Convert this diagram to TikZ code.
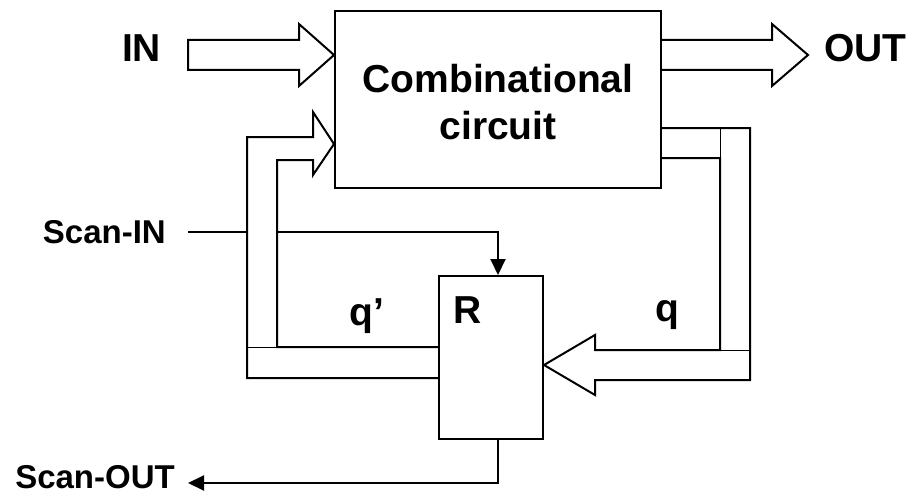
\documentclass[tikz,border=0pt]{standalone}
\usepackage{fontspec}
\setmainfont{Liberation Sans}
\usepackage{tikz}
\usetikzlibrary{arrows.meta, positioning, backgrounds}

\begin{document}
\begin{tikzpicture}[
        x=1pt, y=-1pt,
        box/.style={rectangle, draw, line width=2pt, inner sep=0pt},
        big/.style={font=\fontsize{39}{47}\selectfont\bfseries, inner sep=0pt},
        small/.style={font=\fontsize{33}{40}\selectfont\bfseries, inner sep=0pt},
        bus/.style={draw, fill=white, line width=2pt, line join=miter},
        seam/.style={line width=1pt},
        wire/.style={line width=2pt, -{Triangle[length=16pt, width=15pt]}}
    ]
        \useasboundingbox (0,0) rectangle (921,495);

        % Nodes
        \node[box, minimum width=326pt, minimum height=177pt] (comb) at (498,99.5) {};
        \node[big, align=center] (combtext) at (498,102.3) {Combinational\\circuit};
        \node[box, minimum width=104pt, minimum height=163pt] (reg) at (491,357.5) {};
        \node[big] (regtext) at (467.5,310.5) {R};
        \node[big] (in) at (141.5,48) {IN};
        \node[big] (out) at (865.5,48) {OUT};
        \node[big] (q) at (667.5,315) {q};
        \node[big] (qbar) at (367,316.5) {q’};
        \node[small, anchor=east] (scanin) at (166,232) {Scan-IN};
        \node[small, anchor=east] (scanout) at (175,477) {Scan-OUT};

        \begin{pgfonlayer}{background}
        % Scan chain
        \draw[wire] ([xshift=22pt]scanin.east) -| ([xshift=7pt]reg.north);
        \draw[wire] ([xshift=7pt]reg.south) |- ([xshift=13pt, yshift=-6pt]scanout.east);

        % Buses
        \path[bus] (188,40) -- (299,40) -- (299,24) -- (comb.west |- 0,55)
            -- (299,86) -- (299,70) -- (188,70) -- cycle;
        \path[bus] (comb.east |- 0,40) -- (772,40) -- (772,24) -- (808,55)
            -- (772,86) -- (772,70) -- (comb.east |- 0,70);
        \path[bus] (comb.east |- 0,128) -- (750,128) -- (750,380) -- (595,380)
            -- (595,395) -- (reg.east |- 0,365) -- (595,335) -- (595,350)
            -- (720,350) -- (720,158) -- (comb.east |- 0,158);
        \path[bus] (reg.west |- 0,347) -- (277,347) -- (277,160) -- (313,160)
            -- (313,175) -- (comb.west |- 0,144) -- (313,112) -- (313,137)
            -- (247,137) -- (247,378) -- (reg.west |- 0,378);
        \draw[seam] (720,128) -- (720,158);
        \draw[seam] (720,350) -- (750,350);
        \draw[seam] (247,347) -- (277,347);
        \end{pgfonlayer}
\end{tikzpicture}
\end{document}
